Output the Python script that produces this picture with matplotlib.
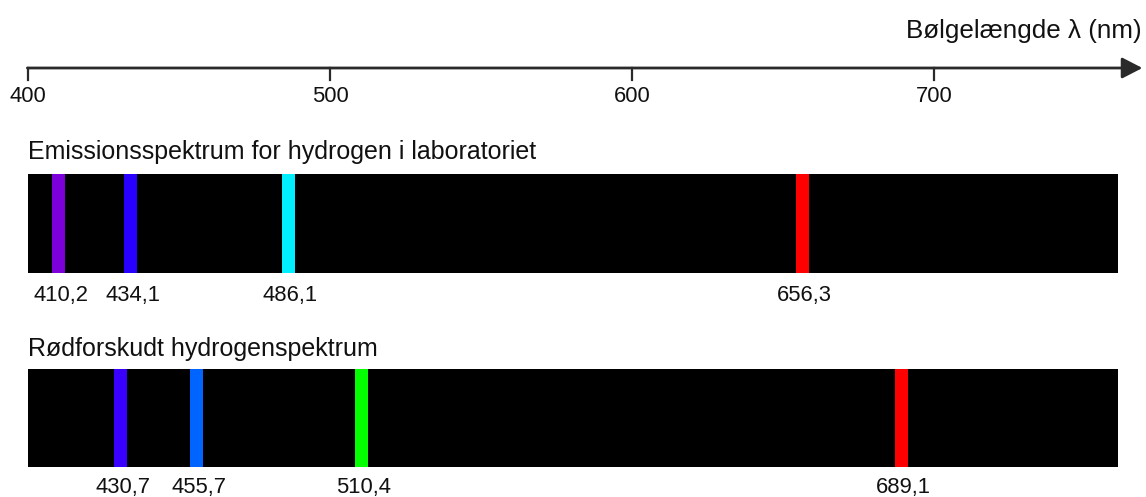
import matplotlib
matplotlib.use("Agg")
import matplotlib.pyplot as plt

plt.rcParams['font.family'] = ['Liberation Sans', 'DejaVu Sans']

# wavelengths (nm) of the lines in the two spectra
lab_lines = [410.2, 434.1, 486.1, 656.3]
lab_labels = ["410,2", "434,1", "486,1", "656,3"]
lab_colors = ["#7d00db", "#2800ff", "#00efff", "#ff0000"]

red_lines = [430.7, 455.7, 510.4, 689.1]
red_labels = ["430,7", "455,7", "510,4", "689,1"]
red_colors = ["#3900ff", "#0065ff", "#04ff00", "#ff0000"]

axis_ticks = [400, 500, 600, 700]
spec_start, spec_end = 400, 761

fig = plt.figure(figsize=(11.46, 4.97), dpi=100)
ax = fig.add_axes([0, 0, 1, 1])
ax.set_xlim(390.73, 770.2)
ax.set_ylim(497, 0)
ax.axis('off')

fs_num = 15.8
fs_title = 18

# wavelength axis with arrow
ax.annotate("", xy=(769.0, 68), xytext=(399.8, 68),
            arrowprops=dict(arrowstyle='-|>,head_length=0.62,head_width=0.32',
                            color='#2a2a2a', lw=2, mutation_scale=20,
                            shrinkA=0, shrinkB=0))
for t in axis_ticks:
    ax.plot([t, t], [68, 80], color='#2a2a2a', lw=1.6)
    ax.text(t, 97, str(t), ha='center', va='center', fontsize=fs_num, color='#111111')
ax.text(1142 / 1146, 1 - 31 / 497, "Bølgelængde λ (nm)", transform=ax.transAxes,
        ha='right', va='center', fontsize=fs_title + 0.7, color='#111111')


def spectrum(top, bottom, lines, labels, colors, title, label_y, title_y):
    ax.bar(spec_start, bottom - top, width=spec_end - spec_start, bottom=top,
           align='edge', color='black')
    ax.bar(lines, [bottom - top] * len(lines), width=4.3, bottom=top,
           color=colors)
    for x, s in zip(lines, labels):
        ax.text(x + 0.8, label_y, s, ha='center', va='center', fontsize=fs_num,
                color='#111111')
    ax.text(spec_start, title_y, title, ha='left', va='center', fontsize=fs_title,
            color='#111111')


spectrum(174, 273, lab_lines, lab_labels, lab_colors,
         "Emissionsspektrum for hydrogen i laboratoriet", 295, 152)
spectrum(369, 467, red_lines, red_labels, red_colors,
         "Rødforskudt hydrogenspektrum", 487, 349)

fig.savefig("out.png", dpi=100)
